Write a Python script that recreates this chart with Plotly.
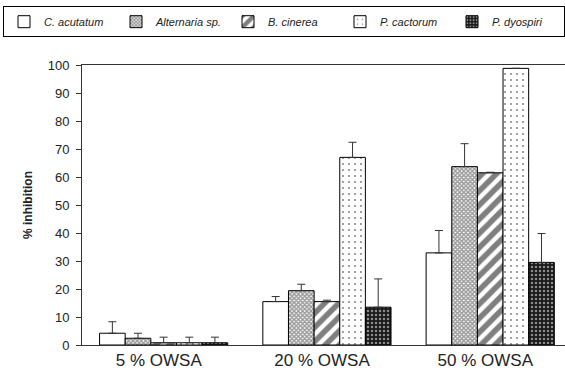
import plotly.graph_objects as go

# Treatment groups (x axis) and fungal species (series)
groups = ["5 % OWSA", "20 % OWSA", "50 % OWSA"]
species = ["C. acutatum", "Alternaria sp.", "B. cinerea", "P. cactorum", "P. dyospiri"]

# % inhibition per species, one value per treatment group
c_acutatum = [4.2, 15.5, 32.9]
alternaria = [2.4, 19.4, 63.7]
b_cinerea = [0.8, 15.5, 61.5]
p_cactorum = [0.8, 67.0, 98.8]
p_dyospiri = [0.8, 13.5, 29.5]

# upper error (standard deviation) per species
c_acutatum_err = [4.1, 1.8, 8.0]
alternaria_err = [1.8, 2.3, 8.2]
b_cinerea_err = [2.0, 0.5, 0.2]
p_cactorum_err = [2.0, 5.4, 0.0]
p_dyospiri_err = [2.0, 10.1, 10.3]

values = [c_acutatum, alternaria, b_cinerea, p_cactorum, p_dyospiri]
errors = [c_acutatum_err, alternaria_err, b_cinerea_err, p_cactorum_err, p_dyospiri_err]

# fill styles: (bar colour, pattern settings)
styles = [
    ("white", dict(shape="")),
    ("white", dict(shape="x", size=3, fgcolor="#333", bgcolor="white", solidity=0.7)),
    ("white", dict(shape="/", size=10, fgcolor="black", bgcolor="white", solidity=0.55)),
    ("white", dict(shape=".", size=6, fgcolor="black", bgcolor="white", solidity=0.08)),
    ("#1a1a1a", dict(shape=".", size=4, fgcolor="white", bgcolor="#1a1a1a", solidity=0.3)),
]

x_pos = list(range(len(groups)))

fig = go.Figure()
for name, vals, errs, (col, pat) in zip(species, values, errors, styles):
    fig.add_trace(go.Bar(
        x=x_pos,
        y=vals,
        name=f"<i>{name}</i>",
        marker=dict(color=col, pattern=pat, line=dict(color="black", width=1)),
        error_y=dict(type="data", symmetric=False, array=errs,
                     arrayminus=[0] * len(errs),
                     color="#333", thickness=1, width=4),
    ))

fig.update_layout(
    width=565,
    height=377,
    margin=dict(l=82, r=0, t=65, b=32),
    paper_bgcolor="white",
    plot_bgcolor="white",
    barmode="group",
    bargap=0.215,
    bargroupgap=0,
    font=dict(family="Liberation Sans, Arial, sans-serif", color="#222"),
    showlegend=True,
    legend=dict(
        orientation="h",
        x=-0.14, xanchor="left",
        y=1.21, yanchor="top",
        bordercolor="black", borderwidth=1,
        font=dict(size=11, color="#222"),
        entrywidth=67,
        itemwidth=30,
        traceorder="normal",
    ),
    xaxis=dict(
        range=[-0.5, 2.458],
        tickvals=[p - 0.03 for p in x_pos],
        ticktext=groups,
        showline=True, linecolor="#333", linewidth=1, mirror=True,
        ticks="", showgrid=False, zeroline=False,
        tickfont=dict(size=17, color="#222"),
    ),
    yaxis=dict(
        range=[0, 100],
        dtick=10,
        showline=True, linecolor="#333", linewidth=1,
        ticks="outside", ticklen=5, tickcolor="#333",
        ticklabelstandoff=4,
        showgrid=False, zeroline=False,
        tickfont=dict(size=13, color="#222"),
        title=dict(text="<b>% inhibition</b>", font=dict(size=12, color="#222"), standoff=12),
    ),
)

fig.write_html("out.html")
